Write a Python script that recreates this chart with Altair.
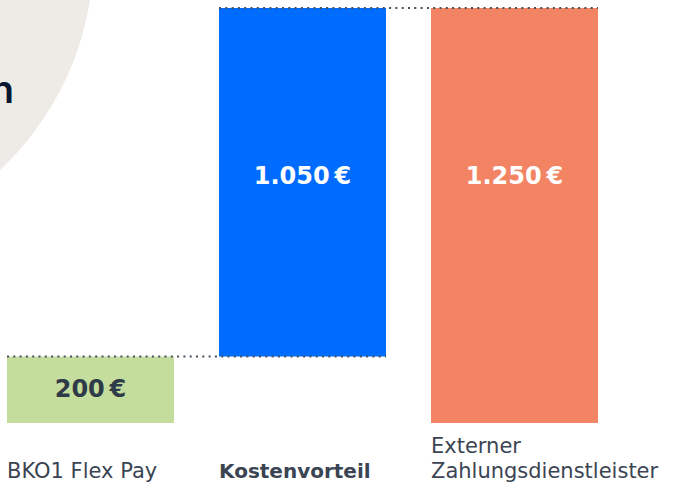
import altair as alt
import pandas as pd

# ---- data ----
categories = ["BKO1 Flex Pay", "Kostenvorteil", "Externer Zahlungsdienstleister"]
axis_labels = ["BKO1 Flex Pay", "Kostenvorteil", "Externer\nZahlungsdienstleister"]
bar_start = [0, 200, 0]
bar_end = [200, 1250, 1250]
value_text = ["200\u2009€", "1.050\u2009€", "1.250\u2009€"]

conn_from = ["BKO1 Flex Pay", "Kostenvorteil"]
conn_to = ["Kostenvorteil", "Externer Zahlungsdienstleister"]
conn_level = [200, 1250]

colors = ["#C4DC9C", "#006CFF", "#F28463"]

df = pd.DataFrame({
    "cat": categories,
    "label": axis_labels,
    "start": bar_start,
    "end": bar_end,
    "value": value_text,
})
df["mid"] = (df["start"] + df["end"]) / 2
conn = pd.DataFrame({"from": conn_from, "to": conn_to, "level": conn_level})
one = pd.DataFrame({"a": [0]})

FONT = "DejaVu Sans"
W, H = 605, 415
LINE_H = 25
xscale = alt.Scale(domain=categories, paddingInner=45 / 212, paddingOuter=7 / 212)
yscale = alt.Scale(domain=[0, 1250], nice=False, zero=True)
X = alt.X("cat:N", scale=xscale, axis=None, sort=categories)
XL = alt.X("cat:N", scale=xscale, axis=None, sort=categories, bandPosition=0)
Y = alt.Y("start:Q", scale=yscale, axis=None)

circle = alt.Chart(one).mark_point(
    shape="circle", filled=True, size=354000, color="#EEEAE6", opacity=1, strokeWidth=0
).encode(x=alt.value(-203.8), y=alt.value(-54.7))

title_n = alt.Chart(one).mark_text(
    text="n", align="right", baseline="alphabetic", fontSize=38, fontWeight=600,
    color="#0A1731", font="Inter"
).encode(x=alt.value(14), y=alt.value(95))

bars = alt.Chart(df).mark_bar(cornerRadius=0).encode(
    x=X,
    y=Y,
    y2="end:Q",
    color=alt.Color("cat:N", scale=alt.Scale(domain=categories, range=colors), legend=None),
)

rules = alt.Chart(conn).mark_rule(
    strokeDash=[2, 4.3], strokeWidth=2, color="#44505E", x2Offset=83.5
).encode(
    x=alt.X("from:N", scale=xscale, axis=None, sort=categories, bandPosition=0),
    x2="to:N",
    y=alt.Y("level:Q", scale=yscale, axis=None),
)

green_label = alt.Chart(df).transform_filter(
    alt.datum.cat == "BKO1 Flex Pay"
).mark_text(
    fontSize=24, fontWeight="bold", color="#2F3A48", font=FONT, baseline="middle"
).encode(x=X, y=alt.Y("mid:Q", scale=yscale, axis=None), text="value:N")

tall_labels = alt.Chart(df).transform_filter(
    alt.datum.cat != "BKO1 Flex Pay"
).mark_text(
    fontSize=24, fontWeight="bold", color="white", font=FONT, baseline="middle"
).encode(x=X, y=alt.value(169), text="value:N")

single_labels = alt.Chart(df).transform_filter(
    alt.datum.cat == "BKO1 Flex Pay"
).mark_text(
    fontSize=21, color="#3B4452", font=FONT, align="left", baseline="bottom"
).encode(x=XL, y=alt.value(474), text="label:N")

multi_labels = alt.Chart(df).transform_filter(
    alt.datum.cat == "Externer Zahlungsdienstleister"
).mark_text(
    fontSize=21, color="#3B4452", font=FONT, align="left", baseline="bottom",
    lineBreak="\n", lineHeight=LINE_H
).encode(x=XL, y=alt.value(474 - LINE_H), text="label:N")

bold_label = alt.Chart(df).transform_filter(
    alt.datum.cat == "Kostenvorteil"
).mark_text(
    fontSize=20, fontWeight="bold", color="#3B4452", font=FONT, align="left",
    baseline="bottom"
).encode(x=XL, y=alt.value(474), text="label:N")

chart = alt.layer(
    circle, title_n, bars, rules, green_label, tall_labels,
    single_labels, multi_labels, bold_label
).properties(
    width=W, height=H,
    padding={"left": 0, "top": 8, "right": 76, "bottom": 65},
    autosize=alt.AutoSizeParams(type="none"),
    background="white",
).configure_view(stroke=None)

chart.save("out.html", embed_options={"renderer": "svg", "actions": False})
